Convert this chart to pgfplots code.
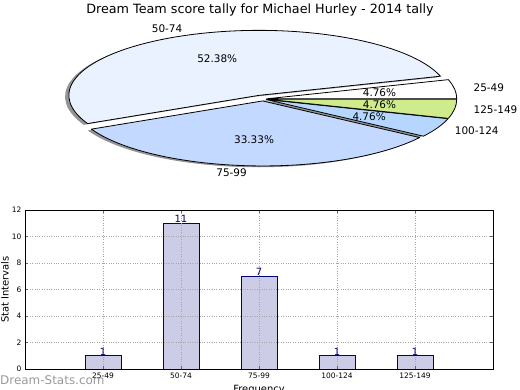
\documentclass[border=0pt]{standalone}
\usepackage{pgfplots}
\pgfplotsset{compat=1.18}
\usepackage{fontspec}
\setmainfont{DejaVu Sans}
\definecolor{cA}{RGB}{255,255,255}
\definecolor{cB}{RGB}{235,242,255}
\definecolor{cC}{RGB}{196,217,255}
\definecolor{cD}{RGB}{181,215,255}
\definecolor{cE}{RGB}{207,235,140}
\definecolor{barfill}{RGB}{204,204,230}
\definecolor{navy}{RGB}{0,0,128}
% pie slice: #1 cumulative count at start, #2 cumulative count at end (total 21), #3 explode, #4 colour
\newcommand\pieshadow[3]{%
  \fill[black!42] ({#3*cos((#1+#2)*180/21)-0.02},{#3*sin((#1+#2)*180/21)-0.02}) --
    ({#3*cos((#1+#2)*180/21)-0.02+cos(#1*360/21)},{#3*sin((#1+#2)*180/21)-0.02+sin(#1*360/21)})
    arc[start angle={#1*360/21}, end angle={#2*360/21}, x radius=1, y radius=1] -- cycle;}
\newcommand\pieslice[4]{%
  \filldraw[fill=#4, draw=black, line width=0.8bp, line join=round]
    ({#3*cos((#1+#2)*180/21)},{#3*sin((#1+#2)*180/21)}) --
    ({#3*cos((#1+#2)*180/21)+cos(#1*360/21)},{#3*sin((#1+#2)*180/21)+sin(#1*360/21)})
    arc[start angle={#1*360/21}, end angle={#2*360/21}, x radius=1, y radius=1] -- cycle;}
% labels: #1,#2 cumulative counts, #3 explode, #4 percent, #5 name, #6 anchor of name
\newcommand\pielabel[6]{%
  \node[font=\fontsize{10.5}{12}\selectfont, inner sep=0pt] at ({(#3+0.6)*cos((#1+#2)*180/21)},{(#3+0.6)*sin((#1+#2)*180/21)}) {#4};
  \node[font=\fontsize{10.5}{12}\selectfont, inner sep=0pt, anchor=#6] at ({(#3+1.1)*cos((#1+#2)*180/21)},{(#3+1.1)*sin((#1+#2)*180/21)}) {#5};}
\begin{document}
\begin{tikzpicture}
\path[use as bounding box] (0,0) rectangle (520bp,390bp);
\node[font=\fontsize{12.8}{14}\selectfont] at (260bp,380bp) {Dream Team score tally for Michael Hurley - 2014 tally};
% pie
\begin{axis}[at={(263bp,291bp)}, anchor=center, scale only axis, width=494bp, height=169bp,
  xmin=-1.3, xmax=1.3, ymin=-1.3, ymax=1.3, hide axis, clip=false]
\pieshadow{0}{1}{0.02}
\pieshadow{1}{12}{0.06}
\pieshadow{12}{19}{0.03}
\pieshadow{19}{20}{0.02}
\pieshadow{20}{21}{0.02}
\pieslice{0}{1}{0.02}{cA}
\pieslice{1}{12}{0.06}{cB}
\pieslice{12}{19}{0.03}{cC}
\pieslice{19}{20}{0.02}{cD}
\pieslice{20}{21}{0.02}{cE}
\pielabel{0}{1}{0.02}{4.76\%}{25-49}{west}
\pielabel{1}{12}{0.06}{52.38\%}{50-74}{east}
\pielabel{12}{19}{0.03}{33.33\%}{75-99}{east}
\pielabel{19}{20}{0.02}{4.76\%}{100-124}{west}
\pielabel{20}{21}{0.02}{4.76\%}{125-149}{west}
\end{axis}
% bars
\begin{axis}[at={(25bp,21bp)}, anchor=south west, scale only axis, width=468bp, height=159bp,
  xmin=-1, xmax=5, ymin=0, ymax=12,
  xtick={0,1,2,3,4}, xticklabels={25-49,50-74,75-99,100-124,125-149},
  ytick={0,2,4,6,8,10,12},
  grid=major, grid style={dotted, black!35, line width=0.7bp},
  axis on top, tick align=inside, major tick length=3bp, tick style={black!60},
  axis line style={black, line width=0.8bp},
  ticklabel style={font=\fontsize{7.5}{9}\selectfont},
  /pgf/number format/assume math mode=true,
  ylabel={Stat Intervals}, xlabel={Frequency},
  label style={font=\fontsize{10}{12}\selectfont},
  ylabel style={at={(axis description cs:-0.043,0.5)}, anchor=center},
  xlabel style={at={(axis description cs:0.5,-0.13)}, anchor=center},
  clip=false]
\addplot[ybar, bar width=0.46, fill=barfill, draw=navy, line width=0.8bp,
  nodes near coords, nodes near coords style={text=navy, font=\fontsize{10}{12}\selectfont, anchor=south, inner sep=0pt}]
  coordinates {(0,1) (1,11) (2,7) (3,1) (4,1)};
\end{axis}
\node[anchor=west, text=black!40, font=\fontsize{12}{14}\selectfont, inner sep=0pt] at (0bp,10bp) {Dream-Stats.com};
\end{tikzpicture}
\end{document}
